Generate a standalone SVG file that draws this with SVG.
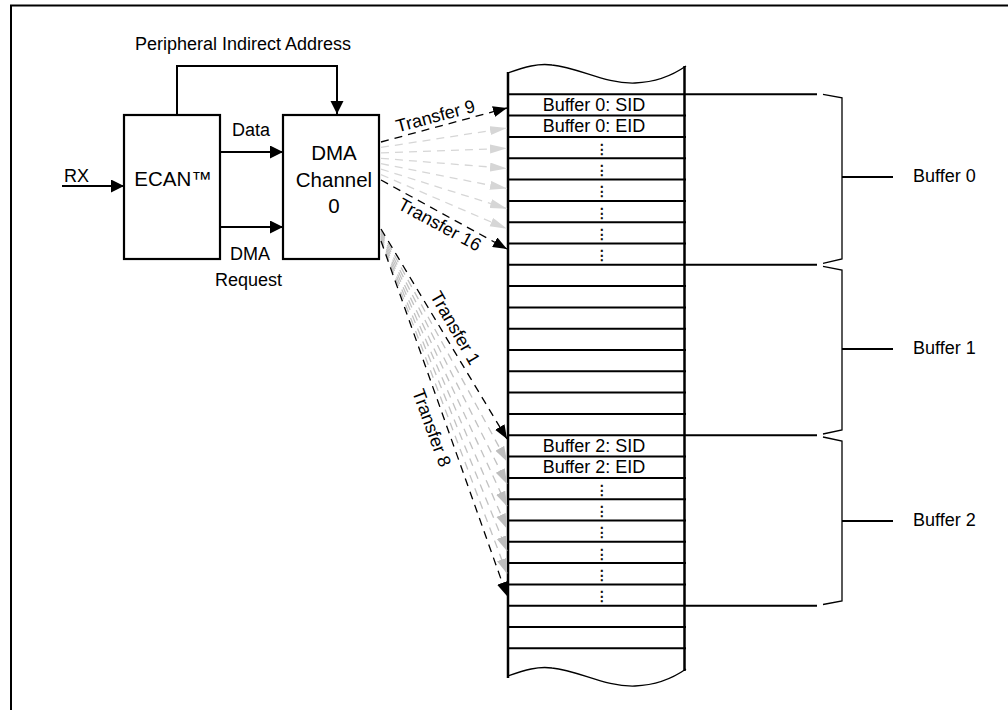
<svg xmlns="http://www.w3.org/2000/svg" width="1008" height="710" viewBox="0 0 1008 710">
<style>
.t{font-family:"Liberation Sans",Arial,sans-serif;font-size:18px;fill:#000}
.tb{font-size:20.5px}
.m{text-anchor:middle}
.dots{font-family:"DejaVu Sans",sans-serif;font-size:14px;text-anchor:middle;fill:#000;stroke:#000;stroke-width:0.4}
.box{fill:#fff;stroke:#000;stroke-width:2.2}
.wire{fill:none;stroke:#000;stroke-width:2}
.row{stroke:#000;stroke-width:2}
.edge{stroke:#000;stroke-width:2.5;fill:none}
.wave{fill:none;stroke:#000;stroke-width:1.3}
.dk{fill:none;stroke:#000;stroke-width:1.3;stroke-dasharray:8 6}
.dg1{fill:none;stroke:#d6d6d6;stroke-width:1.3;stroke-dasharray:8 6}
.dg2{fill:none;stroke:#c2c2c2;stroke-width:1.3;stroke-dasharray:8 6}
.brace{fill:none;stroke:#000;stroke-width:1.3}
</style>
<defs>
<marker id="ah" markerUnits="userSpaceOnUse" markerWidth="14" markerHeight="14" refX="13" refY="6.5" orient="auto"><path d="M0,0 L13,6.5 L0,13 z" fill="#000"/></marker>
<marker id="ahk" markerUnits="userSpaceOnUse" markerWidth="15" markerHeight="11" refX="14" refY="5.5" orient="auto"><path d="M0,0 L14,5.5 L0,11 z" fill="#000"/></marker>
<marker id="ahg1" markerUnits="userSpaceOnUse" markerWidth="18" markerHeight="10" refX="17" refY="4.5" orient="auto"><path d="M0,0 L17,4.5 L0,9 z" fill="#d6d6d6"/></marker>
<marker id="ahg2" markerUnits="userSpaceOnUse" markerWidth="16" markerHeight="11" refX="15" refY="5" orient="auto"><path d="M0,0 L15,5 L0,10 z" fill="#bdbdbd"/></marker>
</defs>
<rect width="1008" height="710" fill="#fff"/>
<path d="M11,720 V5.5 H1020" fill="none" stroke="#000" stroke-width="2"/>

<g id="node-ecan">
<rect class="box" x="124" y="115" width="96" height="144"/>
<text class="t tb m" x="173" y="186">ECAN™</text>
</g>
<g id="node-dma">
<rect class="box" x="283" y="115" width="96" height="144"/>
<text class="t tb m" x="334" y="160">DMA</text>
<text class="t tb m" x="334" y="187">Channel</text>
<text class="t tb m" x="334" y="213">0</text>
</g>

<g id="node-memory">
<path class="wave" d="M508,73 C525,67 538,63 552,65 C580,68 605,84 635,83 C660,82 676,73 686,66"/>
<path class="wave" transform="translate(0,603)" d="M508,73 C525,67 538,63 552,65 C580,68 605,84 635,83 C660,82 676,73 686,66"/>
<line class="edge" x1="508" y1="72" x2="508" y2="678"/>
<line class="edge" x1="684.5" y1="66" x2="684.5" y2="671"/>
<g class="row">
<line x1="508" y1="94.3" x2="817" y2="94.3"/>
<line x1="508" y1="115.6" x2="686" y2="115.6"/>
<line x1="508" y1="136.9" x2="686" y2="136.9"/>
<line x1="508" y1="158.2" x2="686" y2="158.2"/>
<line x1="508" y1="179.5" x2="686" y2="179.5"/>
<line x1="508" y1="200.9" x2="686" y2="200.9"/>
<line x1="508" y1="222.2" x2="686" y2="222.2"/>
<line x1="508" y1="243.5" x2="686" y2="243.5"/>
<line x1="508" y1="264.8" x2="817" y2="264.8"/>
<line x1="508" y1="286.1" x2="686" y2="286.1"/>
<line x1="508" y1="307.4" x2="686" y2="307.4"/>
<line x1="508" y1="328.7" x2="686" y2="328.7"/>
<line x1="508" y1="350" x2="686" y2="350"/>
<line x1="508" y1="371.3" x2="686" y2="371.3"/>
<line x1="508" y1="392.6" x2="686" y2="392.6"/>
<line x1="508" y1="413.9" x2="686" y2="413.9"/>
<line x1="508" y1="435.3" x2="817" y2="435.3"/>
<line x1="508" y1="456.6" x2="686" y2="456.6"/>
<line x1="508" y1="477.9" x2="686" y2="477.9"/>
<line x1="508" y1="499.2" x2="686" y2="499.2"/>
<line x1="508" y1="520.5" x2="686" y2="520.5"/>
<line x1="508" y1="541.8" x2="686" y2="541.8"/>
<line x1="508" y1="563.1" x2="686" y2="563.1"/>
<line x1="508" y1="584.4" x2="686" y2="584.4"/>
<line x1="508" y1="605.7" x2="817" y2="605.7"/>
<line x1="508" y1="627" x2="686" y2="627"/>
<line x1="508" y1="648.3" x2="686" y2="648.3"/>
</g>
<text class="t m" x="594" y="110.7">Buffer 0: SID</text>
<text class="t m" x="594" y="131.8">Buffer 0: EID</text>
<text class="dots" x="602" y="153.5">⋮</text>
<text class="dots" x="602" y="174.8">⋮</text>
<text class="dots" x="602" y="196.1">⋮</text>
<text class="dots" x="602" y="217.5">⋮</text>
<text class="dots" x="602" y="238.8">⋮</text>
<text class="dots" x="602" y="260.1">⋮</text>
<text class="t m" x="594" y="451.7">Buffer 2: SID</text>
<text class="t m" x="594" y="473">Buffer 2: EID</text>
<text class="dots" x="602" y="494.5">⋮</text>
<text class="dots" x="602" y="515.8">⋮</text>
<text class="dots" x="602" y="537.1">⋮</text>
<text class="dots" x="602" y="558.5">⋮</text>
<text class="dots" x="602" y="579.8">⋮</text>
<text class="dots" x="602" y="601.1">⋮</text>
</g>

<g id="label-buffer0">
<path class="brace" d="M823,94.3 L842,97.8 V259 L823,263.3"/>
<line class="row" x1="842" y1="177" x2="893" y2="177"/>
<text class="t" x="913" y="182">Buffer 0</text>
</g>
<g id="label-buffer1">
<path class="brace" d="M823,266.3 L842,270 V430 L823,434"/>
<line class="row" x1="842" y1="349" x2="893" y2="349"/>
<text class="t" x="913" y="354">Buffer 1</text>
</g>
<g id="label-buffer2">
<path class="brace" d="M823,437 L842,441 V601 L823,604.5"/>
<line class="row" x1="842" y1="521" x2="893" y2="521"/>
<text class="t" x="913" y="526">Buffer 2</text>
</g>

<g id="connectors">
<line class="wire" x1="62" y1="186" x2="124" y2="186" marker-end="url(#ah)"/>
<text class="t" x="64" y="182">RX</text>
<path class="wire" d="M177,115 V66 H337 V114" marker-end="url(#ah)"/>
<text class="t m" x="243" y="50">Peripheral Indirect Address</text>
<line class="wire" x1="221" y1="152" x2="283" y2="152" marker-end="url(#ah)"/>
<text class="t m" x="251" y="136">Data</text>
<line class="wire" x1="221" y1="227" x2="283" y2="227" marker-end="url(#ah)"/>
<text class="t m" x="250" y="260">DMA</text>
<text class="t m" x="248.5" y="286">Request</text>

<g id="fan-buffer0">
<line class="dg1" x1="381" y1="147.4" x2="507" y2="128.1" marker-end="url(#ahg1)"/>
<line class="dg1" x1="381" y1="152.9" x2="507" y2="148.3" marker-end="url(#ahg1)"/>
<line class="dg1" x1="381" y1="158.3" x2="507" y2="168.4" marker-end="url(#ahg1)"/>
<line class="dg1" x1="381" y1="163.7" x2="507" y2="188.6" marker-end="url(#ahg1)"/>
<line class="dg1" x1="381" y1="169.1" x2="507" y2="208.7" marker-end="url(#ahg1)"/>
<line class="dg1" x1="381" y1="174.6" x2="507" y2="228.8" marker-end="url(#ahg1)"/>
<line class="dk" x1="381" y1="142" x2="507" y2="108" marker-end="url(#ahk)"/>
<line class="dk" x1="381" y1="180" x2="507" y2="249" marker-end="url(#ahk)"/>
<text class="t m" transform="translate(437,122) rotate(-15)">Transfer 9</text>
<text class="t m" transform="translate(437,230) rotate(28.5)">Transfer 16</text>
</g>

<g id="fan-buffer2">
<line class="dg2" x1="381" y1="230.7" x2="507" y2="461.4" marker-end="url(#ahg2)"/>
<line class="dg2" x1="381" y1="232.4" x2="507" y2="483.9" marker-end="url(#ahg2)"/>
<line class="dg2" x1="381" y1="234.1" x2="507" y2="506.3" marker-end="url(#ahg2)"/>
<line class="dg2" x1="381" y1="235.9" x2="507" y2="528.7" marker-end="url(#ahg2)"/>
<line class="dg2" x1="381" y1="237.6" x2="507" y2="551.1" marker-end="url(#ahg2)"/>
<line class="dg2" x1="381" y1="239.3" x2="507" y2="573.6" marker-end="url(#ahg2)"/>
<line class="dk" x1="381" y1="229" x2="507" y2="439" marker-end="url(#ahk)"/>
<line class="dk" x1="381" y1="241" x2="507" y2="596" marker-end="url(#ahk)"/>
<text class="t m" transform="translate(450,331) rotate(60)">Transfer 1</text>
<text class="t m" transform="translate(426,430) rotate(70)">Transfer 8</text>
</g>
</g>
</svg>
